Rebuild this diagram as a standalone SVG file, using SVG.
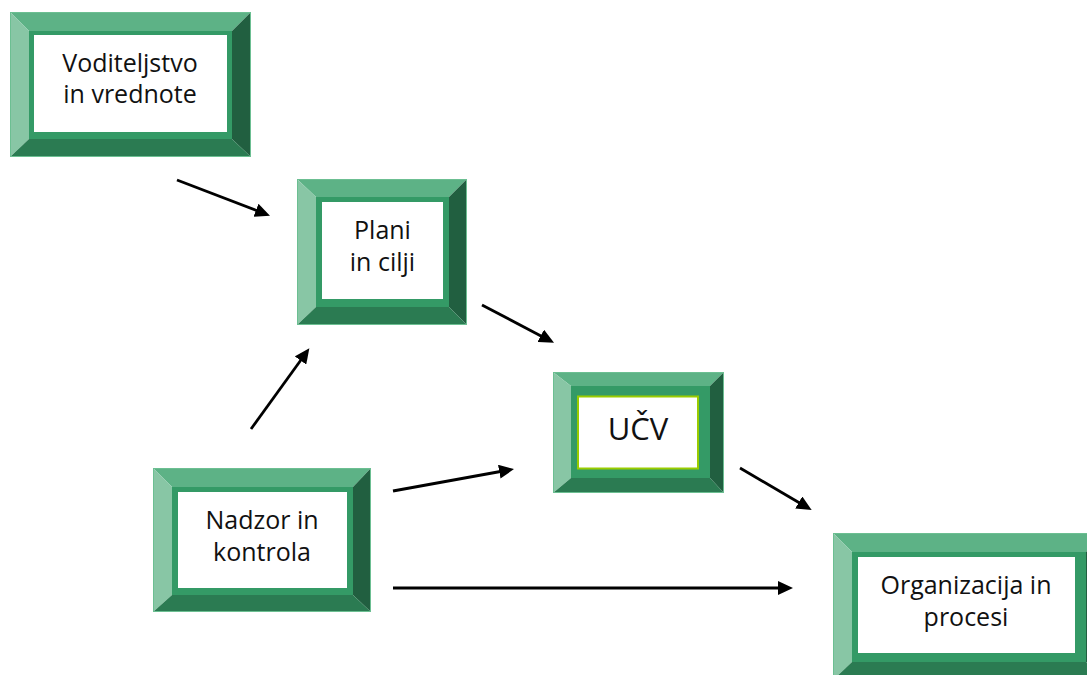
<svg xmlns="http://www.w3.org/2000/svg" width="1087" height="675" viewBox="0 0 1087 675">
<style>
.top{fill:#5db286}
.left{fill:#88c6a5}
.right{fill:#215f40}
.bot{fill:#2b7b52}
.frame{fill:#349a66}
.inner{fill:#ffffff}
.edge{fill:none;stroke:#6cbf92;stroke-width:1}
.lbl{font-family:"Open Sans","DejaVu Sans",sans-serif;font-size:25px;fill:#111;text-anchor:middle}
.big{font-size:31px}
.conn line{stroke:#000;stroke-width:2.8;marker-end:url(#ah)}
</style>
<defs>
<marker id="ah" markerUnits="userSpaceOnUse" markerWidth="15" markerHeight="14" refX="4" refY="7" orient="auto">
<path d="M0,0 L15,7 L0,14 z" fill="#000"/>
</marker>
</defs>
<rect width="1087" height="675" fill="#fff"/>

<g id="n-voditeljstvo">
<polygon class="top" points="10,12 251,12 232,31 29,31"/>
<polygon class="left" points="10,12 29,31 29,139 10,157"/>
<polygon class="right" points="251,12 251,157 232,139 232,31"/>
<polygon class="bot" points="10,157 29,139 232,139 251,157"/>
<rect class="frame" x="29" y="31" width="203" height="108"/>
<rect class="inner" x="34" y="35" width="193" height="97"/>
<rect class="edge" x="10.5" y="12.5" width="240" height="144"/>
<text class="lbl" x="130" y="72">Voditeljstvo</text>
<text class="lbl" x="130" y="103">in vrednote</text>
</g>

<g id="n-plani">
<polygon class="top" points="297,179 467,179 449,197 316,197"/>
<polygon class="left" points="297,179 316,197 316,307 297,325"/>
<polygon class="right" points="467,179 467,325 449,307 449,197"/>
<polygon class="bot" points="297,325 316,307 449,307 467,325"/>
<rect class="frame" x="316" y="197" width="133" height="110"/>
<rect class="inner" x="322" y="202" width="121" height="97"/>
<rect class="edge" x="297.5" y="179.5" width="169" height="145"/>
<text class="lbl" x="382.5" y="239">Plani</text>
<text class="lbl" x="382.5" y="271">in cilji</text>
</g>

<g id="n-ucv">
<polygon class="top" points="553,372 724,372 710,386 571,386"/>
<polygon class="left" points="553,372 571,386 571,478 553,493"/>
<polygon class="right" points="724,372 724,493 710,478 710,386"/>
<polygon class="bot" points="553,493 571,478 710,478 724,493"/>
<rect class="frame" x="571" y="386" width="139" height="92"/>
<rect x="578" y="396.5" width="120" height="72" fill="#fff" stroke="#99cc00" stroke-width="2"/>
<rect class="edge" x="553.5" y="372.5" width="170" height="120"/>
<text class="lbl big" x="638" y="440">UČV</text>
</g>

<g id="n-nadzor">
<polygon class="top" points="153,468 371,468 353,487 172,487"/>
<polygon class="left" points="153,468 172,487 172,595 153,612"/>
<polygon class="right" points="371,468 371,612 353,595 353,487"/>
<polygon class="bot" points="153,612 172,595 353,595 371,612"/>
<rect class="frame" x="172" y="487" width="181" height="108"/>
<rect class="inner" x="178" y="492" width="169" height="96"/>
<rect class="edge" x="153.5" y="468.5" width="217" height="143"/>
<text class="lbl" x="262" y="529">Nadzor in</text>
<text class="lbl" x="262" y="561">kontrola</text>
</g>

<g id="n-organizacija">
<polygon class="top" points="833,533 1104,533 1086,552 852,552"/>
<polygon class="left" points="833,533 852,552 852,662 833,680"/>
<polygon class="right" points="1104,533 1104,680 1086,662 1086,552"/>
<polygon class="bot" points="833,680 852,662 1086,662 1104,680"/>
<rect class="frame" x="852" y="552" width="234" height="110"/>
<rect class="inner" x="858" y="557" width="217" height="96"/>
<rect class="edge" x="833.5" y="533.5" width="270" height="146"/>
<text class="lbl" x="966" y="594">Organizacija in</text>
<text class="lbl" x="966" y="626">procesi</text>
</g>

<g id="connectors" class="conn">
<line x1="177" y1="180" x2="259.7" y2="211.7"/>
<line x1="482" y1="305" x2="544.3" y2="337.7"/>
<line x1="251" y1="429" x2="302.9" y2="357.2"/>
<line x1="393" y1="491" x2="503.2" y2="471"/>
<line x1="740" y1="468" x2="802.2" y2="504.5"/>
<line x1="393" y1="588" x2="782" y2="588"/>
</g>
</svg>
